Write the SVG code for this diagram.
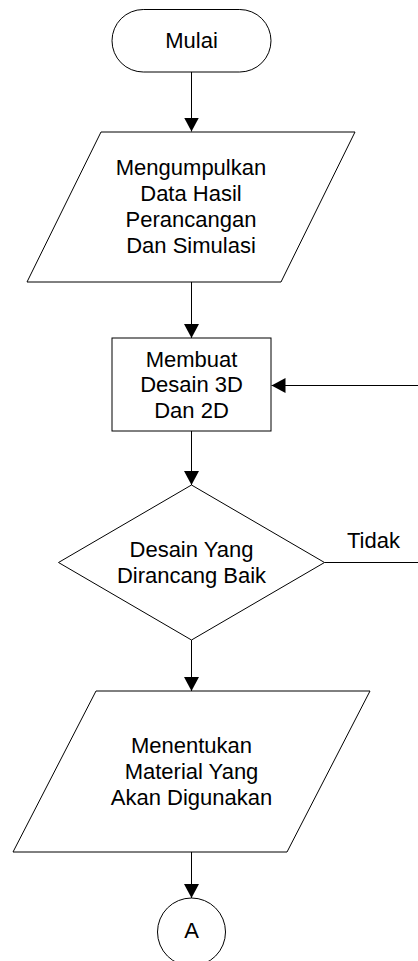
<svg xmlns="http://www.w3.org/2000/svg" width="418" height="961" viewBox="0 0 418 961">
  <style>
    .shape { fill: #ffffff; stroke: #000000; stroke-width: 1; }
    .conn { fill: none; stroke: #000000; stroke-width: 1; }
    .label { font-family: "Liberation Sans", Arial, sans-serif; font-size: 22px; fill: #000000; text-anchor: middle; }
    .side { font-family: "Liberation Sans", Arial, sans-serif; font-size: 22px; fill: #000000; }
  </style>
  <defs>
    <marker id="arrow" markerWidth="14" markerHeight="15" refX="14" refY="7.5" orient="auto" markerUnits="userSpaceOnUse">
      <path d="M0,0 L14,7.5 L0,15 Z" fill="#000000"/>
    </marker>
  </defs>
  <rect width="418" height="961" fill="#ffffff"/>

  <!-- connectors -->
  <g id="connectors">
    <line class="conn" x1="191.5" y1="72" x2="191.5" y2="131.5" marker-end="url(#arrow)"/>
    <line class="conn" x1="191.5" y1="282" x2="191.5" y2="338" marker-end="url(#arrow)"/>
    <line class="conn" x1="191.5" y1="431" x2="191.5" y2="485" marker-end="url(#arrow)"/>
    <line class="conn" x1="191.5" y1="640" x2="191.5" y2="691" marker-end="url(#arrow)"/>
    <line class="conn" x1="191.5" y1="852" x2="191.5" y2="898" marker-end="url(#arrow)"/>
    <!-- "Tidak" branch leaves the decision to the right -->
    <line class="conn" x1="324.5" y1="562.5" x2="418" y2="562.5"/>
    <text class="side" x="347" y="548">Tidak</text>
    <!-- return path into the design step -->
    <line class="conn" x1="418" y1="385.5" x2="271.5" y2="385.5" marker-end="url(#arrow)"/>
  </g>

  <!-- start -->
  <g id="mulai">
    <rect class="shape" x="112" y="9.5" width="159" height="62.5" rx="31.25" ry="31.25"/>
    <text class="label" x="191.5" y="48">Mulai</text>
  </g>

  <!-- collect data -->
  <g id="kumpul-data">
    <polygon class="shape" points="101,132 355,132 281,282 27,282"/>
    <text class="label" x="191" y="175">Mengumpulkan</text>
    <text class="label" x="191" y="201">Data Hasil</text>
    <text class="label" x="191" y="227">Perancangan</text>
    <text class="label" x="191" y="253">Dan Simulasi</text>
  </g>

  <!-- design 3D / 2D -->
  <g id="desain">
    <rect class="shape" x="112" y="338" width="159" height="93"/>
    <text class="label" x="191.5" y="366.5">Membuat</text>
    <text class="label" x="191.5" y="392">Desain 3D</text>
    <text class="label" x="191.5" y="417.5">Dan 2D</text>
  </g>

  <!-- decision -->
  <g id="keputusan">
    <polygon class="shape" points="191.5,485 324.5,562.5 191.5,640 58.5,562.5"/>
    <text class="label" x="191.5" y="556.5">Desain Yang</text>
    <text class="label" x="191.5" y="582.5">Dirancang Baik</text>
  </g>

  <!-- choose material -->
  <g id="material">
    <polygon class="shape" points="96,691 370,691 287,852 13,852"/>
    <text class="label" x="191.5" y="753">Menentukan</text>
    <text class="label" x="191.5" y="779">Material Yang</text>
    <text class="label" x="191.5" y="805">Akan Digunakan</text>
  </g>

  <!-- off-page connector -->
  <g id="konektor-a">
    <circle class="shape" cx="191.5" cy="932" r="34"/>
    <text class="label" x="191.5" y="938">A</text>
  </g>
</svg>
